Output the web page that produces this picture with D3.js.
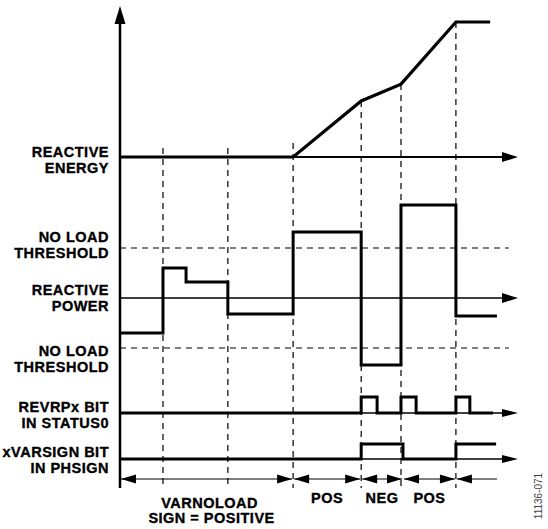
<!DOCTYPE html>
<html><head><meta charset="utf-8">
<script src="https://cdn.jsdelivr.net/npm/d3@7"></script>
<style>body{margin:0;background:#fff}</style>
</head><body><svg id="c" width="548" height="529"></svg>
<script>
// ---- data (time in arbitrary units, 0..100 across the plot) ----
const markerTimes = [10.8, 27.1, 43.5, 60.6, 70.6, 84.4];
const markerTopEnergy = [0, 0, 0, 4.15, 5.4, 10]; // energy value where each marker starts
const energyT = [0, 43.5, 60.6, 70.6, 84.4, 93.0];
const energyV = [0, 0, 4.15, 5.4, 10, 10];
const powerT = [0, 10.8, 16.6, 27.1, 43.5, 60.6, 70.6, 84.4, 94.7];
const powerV = [-35, 30, 16, -16, 66, -67, 93, -18];
const thresholds = [50, -50];
const revrpT = [0, 60.6, 64.6, 70.6, 74.4, 84.4, 87.9, 93.7];
const revrpV = [0, 1, 0, 1, 0, 1, 0];
const signT = [0, 60.6, 71.1, 84.4, 94.5];
const signV = [0, 1, 0, 1];
const regionT = [0, 43.5, 60.6, 71.1, 84.4, 95.0];
const regionLabels = [["VARNOLOAD", "SIGN = POSITIVE"], ["POS"], ["NEG"], ["POS"], []];
const rowLabels = {
  energy: ["REACTIVE", "ENERGY"],
  thrHi: ["NO LOAD", "THRESHOLD"],
  power: ["REACTIVE", "POWER"],
  thrLo: ["NO LOAD", "THRESHOLD"],
  revrp: ["REVRPx BIT", "IN STATUS0"],
  sign: ["xVARSIGN BIT", "IN PHSIGN"]
};
const figId = "11136-071";

// ---- scales ----
const x = d3.scaleLinear().domain([0, 100]).range([120, 518]);
const yE = d3.scaleLinear().domain([0, 10]).range([157, 22]);
const yP = d3.scaleLinear().domain([-100, 100]).range([398, 198]);
const yR = d3.scaleLinear().domain([0, 1]).range([413, 397]);
const yS = d3.scaleLinear().domain([0, 1]).range([459, 444]);
const yArrowRow = 479;
const yBottom = 488;

const svg = d3.select("#c");
const g = svg.append("g");

function arrowHead(px, py, dir, len, hw) {
  let pts;
  if (dir === "up") pts = [[px, py], [px - hw, py + len], [px + hw, py + len]];
  else if (dir === "right") pts = [[px, py], [px - len, py - hw], [px - len, py + hw]];
  else pts = [[px, py], [px + len, py - hw], [px + len, py + hw]];
  g.append("path").attr("d", d3.line()(pts) + "Z").attr("fill", "#000");
}

// vertical dashed markers
markerTimes.forEach((t, i) => {
  g.append("line").attr("x1", x(t)).attr("x2", x(t))
    .attr("y1", yE(markerTopEnergy[i]) - (markerTopEnergy[i] === 0 ? 9 : 0) - (i === 2 ? 5 : 0))
    .attr("y2", yBottom)
    .attr("stroke", "#000").attr("stroke-width", 1.2).attr("stroke-dasharray", "6,5");
});

// threshold dashed lines
thresholds.forEach(v => {
  g.append("line").attr("x1", x(0)).attr("x2", x(97.7))
    .attr("y1", yP(v)).attr("y2", yP(v))
    .attr("stroke", "#000").attr("stroke-width", 1.2).attr("stroke-dasharray", "6,5");
});

// y axis
g.append("line").attr("x1", x(0)).attr("x2", x(0)).attr("y1", 20).attr("y2", yBottom)
  .attr("stroke", "#000").attr("stroke-width", 2.5);
arrowHead(x(0), 6, "up", 18, 5.5);

// horizontal axes with arrows
[[yE(0), 2.2, 10], [yP(0), 1.6, 10], [yR(0), 1.6, 8], [yS(0), 1.6, 8]].forEach(([yy, sw, hw]) => {
  g.append("line").attr("x1", x(0)).attr("x2", x(96)).attr("y1", yy).attr("y2", yy)
    .attr("stroke", "#000").attr("stroke-width", sw);
  arrowHead(x(100), yy, "right", 16, hw / 2);
});

// energy
g.append("path")
  .attr("d", d3.line().x((d, i) => x(energyT[i])).y((d) => yE(d))(energyV))
  .attr("fill", "none").attr("stroke", "#000").attr("stroke-width", 3.2)
  .attr("stroke-linejoin", "miter");

// step signals
function stepPath(T, V, ys) {
  const pts = V.map((v, i) => [x(T[i]), ys(v)]);
  pts.push([x(T[T.length - 1]), ys(V[V.length - 1])]);
  return d3.line().curve(d3.curveStepAfter)(pts);
}
[[powerT, powerV, yP], [revrpT, revrpV, yR], [signT, signV, yS]].forEach(([T, V, ys]) => {
  g.append("path").attr("d", stepPath(T, V, ys))
    .attr("fill", "none").attr("stroke", "#000").attr("stroke-width", 3).attr("stroke-linejoin", "miter");
});

// region arrows
for (let i = 0; i < regionT.length - 1; i++) {
  const a = x(regionT[i]) + 1, b = x(regionT[i + 1]) - 1;
  g.append("line").attr("x1", a).attr("x2", b).attr("y1", yArrowRow).attr("y2", yArrowRow)
    .attr("stroke", "#000").attr("stroke-width", 1.2);
  arrowHead(a, yArrowRow, "left", 15, 4.5);
  if (i < regionT.length - 2) arrowHead(b, yArrowRow, "right", 15, 4.5);
}

// labels
const lab = (txt, px, py, anchor) => g.append("text").text(txt)
  .attr("x", px).attr("y", py).attr("text-anchor", anchor)
  .attr("font-family", "'Liberation Sans', Arial, sans-serif").attr("font-weight", "bold")
  .attr("font-size", 14.5).attr("letter-spacing", 0.5).attr("fill", "#000")
  .attr("stroke", "#000").attr("stroke-width", 0.35);
regionLabels.forEach((ls, i) => {
  const cx = (x(regionT[i]) + x(regionT[i + 1])) / 2;
  if (ls.length === 2) {
    lab(ls[0], cx + 3, 508, "middle");
    lab(ls[1], cx + 5, 523, "middle");
  } else if (ls.length === 1) {
    lab(ls[0], cx, 503, "middle");
  }
});

const lx = 109;
const rows = [
  [rowLabels.energy, yE(0)],
  [rowLabels.thrHi, yP(thresholds[0]) - 6],
  [rowLabels.power, yP(0) - 3],
  [rowLabels.thrLo, yP(thresholds[1]) + 8],
  [rowLabels.revrp, yR(0) - 1],
  [rowLabels.sign, yS(0) - 2]
];
rows.forEach(([ls, by]) => {
  lab(ls[0], lx, by, "end");
  lab(ls[1], lx, by + 15.5, "end");
});

// figure id
g.append("text").text(figId)
  .attr("transform", "translate(542,496) rotate(-90)")
  .attr("text-anchor", "middle")
  .attr("font-family", "'Liberation Sans', Arial, sans-serif")
  .attr("font-size", 10).attr("fill", "#444");
</script></body></html>
